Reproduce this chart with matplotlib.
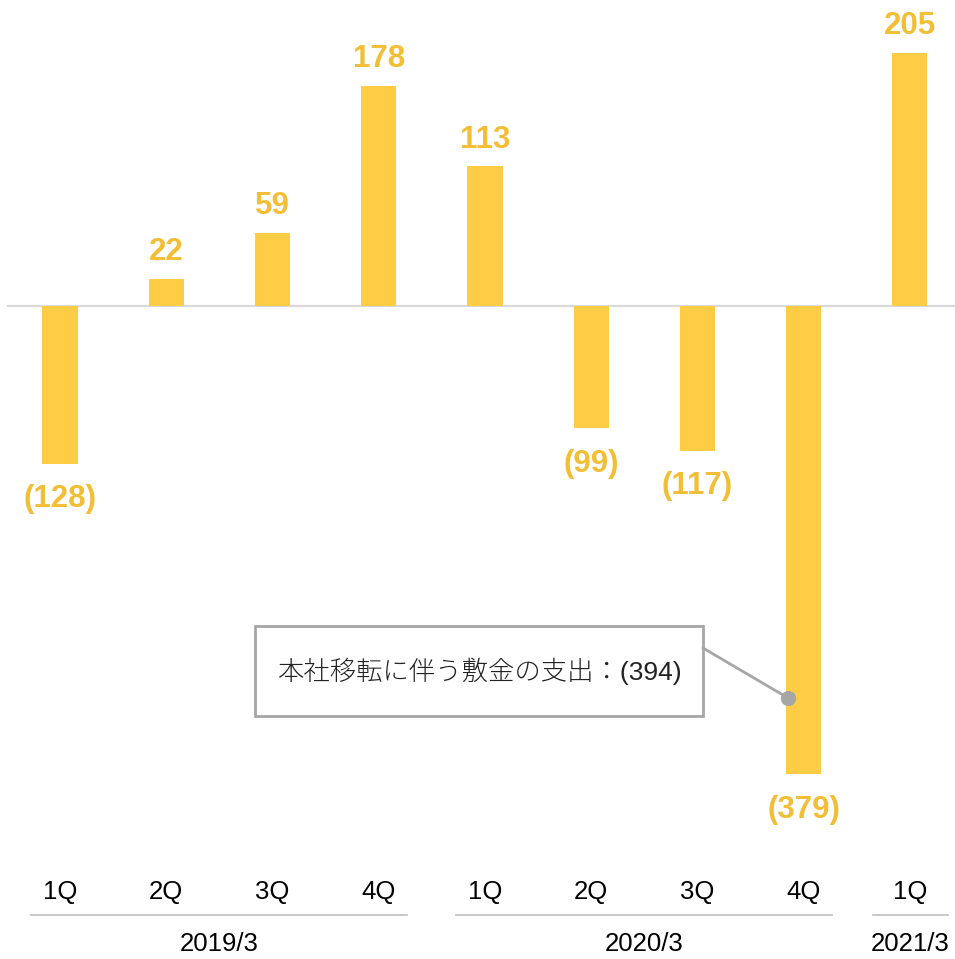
import matplotlib
matplotlib.use('Agg')
import matplotlib.pyplot as plt
from matplotlib import font_manager
from matplotlib.patches import Rectangle

quarters = ['1Q', '2Q', '3Q', '4Q', '1Q', '2Q', '3Q', '4Q', '1Q']
values = [-128, 22, 59, 178, 113, -99, -117, -379, 205]
years = ['2019/3', '2020/3', '2021/3']
year_spans = [(0, 3), (4, 7), (8, 8)]
note = '本社移転に伴う敷金の支出：(394)'

bar_color = '#FFCD45'
label_color = '#F2BE36'

# narrow font if there is one, else regular a bit smaller
names = {f.name for f in font_manager.fontManager.ttflist}
if 'Liberation Sans Narrow' in names:
    narrow, small_size = 'Liberation Sans Narrow', 21.5
else:
    narrow, small_size = 'Liberation Sans', 18.5

fig = plt.figure(figsize=(9.55, 9.59), dpi=100)
ax = fig.add_axes([0, 0, 1, 1])
ax.set_xlim(-0.565, 8.424)
ax.set_ylim(-528.3, 247.6)
ax.axis('off')

x = list(range(len(values)))
ax.bar(x, values, width=0.33, color=bar_color, zorder=2)
ax.plot([0.008, 1], [0, 0], transform=ax.get_yaxis_transform(),
        color='#D9D9D9', lw=1.5, zorder=1)

for xi, v in zip(x, values):
    if v >= 0:
        ax.annotate(str(v), (xi, v), xytext=(0, 8.5), textcoords='offset points',
                    ha='center', va='bottom', fontsize=22.5, fontweight='bold',
                    color=label_color, family='Liberation Sans')
    else:
        ax.annotate('(%d)' % -v, (xi, v), xytext=(0, -14.5), textcoords='offset points',
                    ha='center', va='top', fontsize=22.5, fontweight='bold',
                    color=label_color, family='Liberation Sans')

# quarter labels and year groups
xt = ax.get_xaxis_transform()
for xi, q in zip(x, quarters):
    ax.text(xi, 1 - 892 / 959, q, transform=xt,
            ha='center', va='center', fontsize=small_size, family=narrow)

for yr, (a, b) in zip(years, year_spans):
    if a != b:
        ax.plot([a - 0.27, b + 0.27], [1 - 915 / 959] * 2, transform=xt,
                color='#BFBFBF', lw=1.2, clip_on=False)
    else:
        ax.plot([a - 0.35, b + 0.36], [1 - 915 / 959] * 2, transform=xt,
                color='#BFBFBF', lw=1.2, clip_on=False)
    ax.text((a + b) / 2, 1 - 944 / 959, yr, transform=xt,
            ha='center', va='center', fontsize=small_size, family=narrow)

# callout for the 4Q 2020/3 bar
dot_x, dot_y = 7 - 0.15, -317
ax.add_patch(Rectangle((0.267, 0.2534), 0.469, 0.0938, transform=ax.transAxes,
                       fc='white', ec='#A6A6A6', lw=2, zorder=3))
ax.text(0.5016, 0.3003, note, transform=ax.transAxes, ha='center', va='center',
        fontsize=19, fontweight='light', family=[narrow, 'Noto Sans CJK JP'],
        color='#222222', zorder=4)
ax.annotate('', xy=(dot_x, dot_y), xytext=(0.7361, 0.3243),
            textcoords='axes fraction',
            arrowprops=dict(arrowstyle='-', color='#A6A6A6', lw=2,
                            shrinkA=0, shrinkB=0), zorder=3)
ax.plot(dot_x, dot_y, 'o', color='#A6A6A6', ms=10, zorder=4)

fig.savefig('out.png', dpi=100)
